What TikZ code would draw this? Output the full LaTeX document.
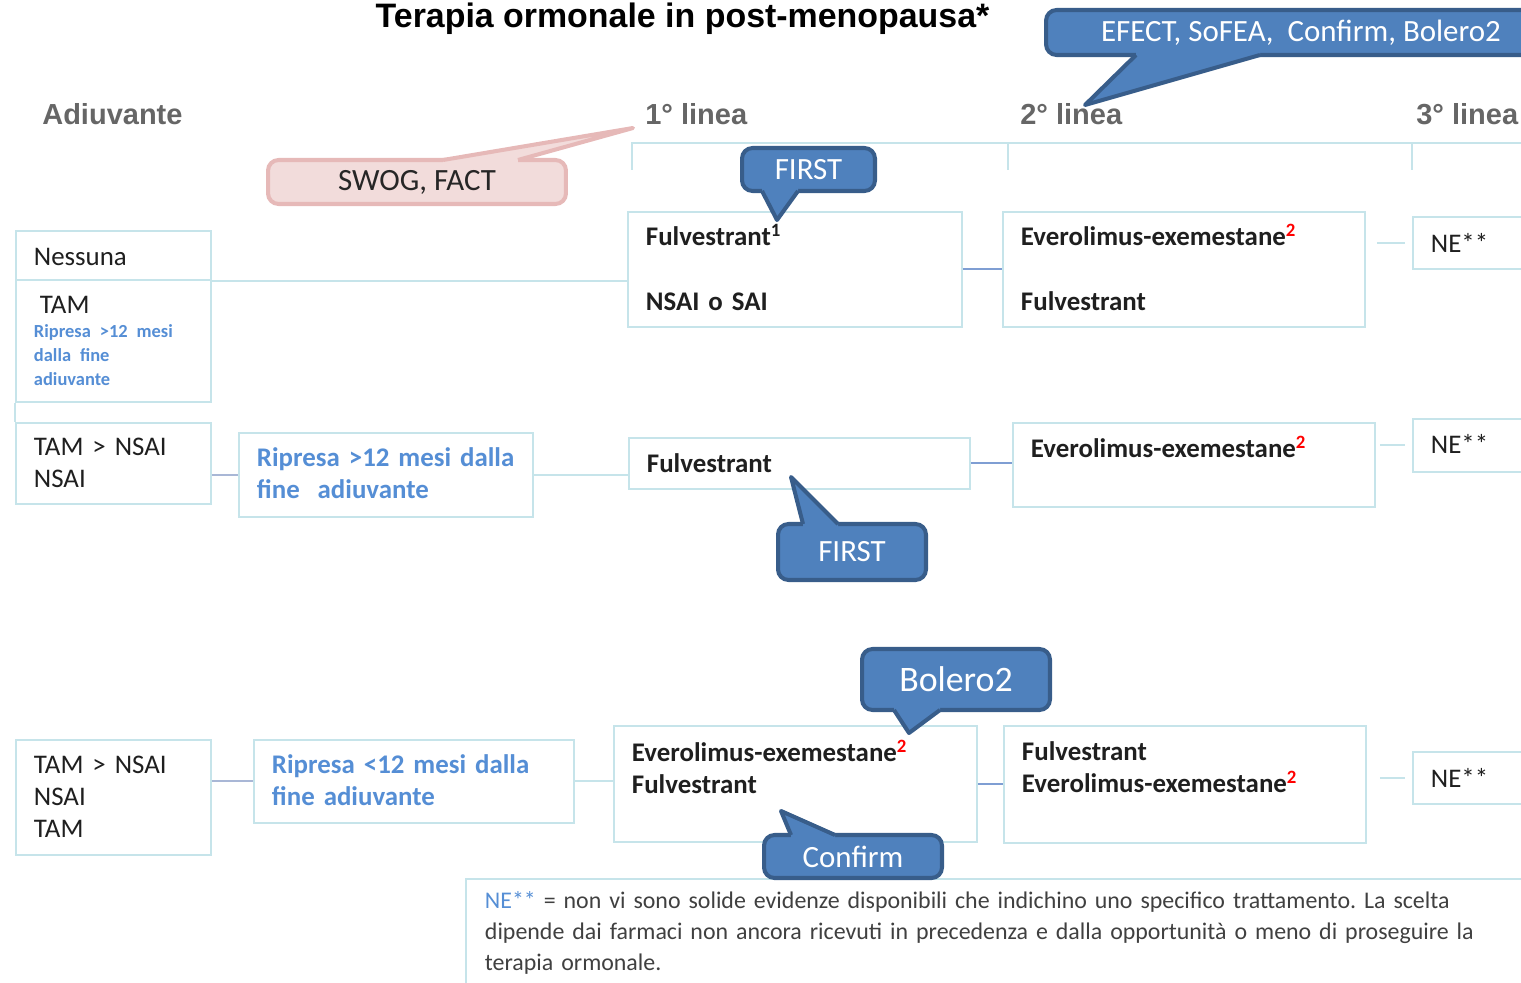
\documentclass[tikz,border=0pt]{standalone}
\usepackage{fontspec}
\setmainfont{Carlito}
\newfontfamily\headfont{Liberation Sans}
\usepackage{xcolor}
\usepackage{tikz}
\definecolor{BoxLine}{HTML}{C6E4EA}
\definecolor{LinkBlue}{HTML}{7F9ED3}
\definecolor{LinkGray}{HTML}{A9B7D6}
\definecolor{TextBlue}{HTML}{558ED5}
\definecolor{HeadGray}{HTML}{666666}
\definecolor{NoteGray}{HTML}{404040}
\definecolor{CallFill}{HTML}{4F81BD}
\definecolor{CallLine}{HTML}{385D8A}
\definecolor{PinkFill}{HTML}{F2DCDB}
\definecolor{PinkLine}{HTML}{E6B9B8}
\frenchspacing

\begin{document}
\begin{tikzpicture}[x=0.02cm,y=-0.02cm]
\tikzstyle{box}=[rectangle,draw=BoxLine,line width=1.1pt,fill=white,anchor=north west,align=left,inner xsep=0.36cm,inner ysep=0pt,text=black!88,font=\fontsize{15.3}{18.1}\selectfont]
\tikzstyle{bbox}=[box,font=\fontsize{15.3}{18.1}\selectfont\bfseries]
\tikzstyle{link}=[draw=BoxLine,line width=1.1pt]
\tikzstyle{blink}=[draw=LinkBlue,line width=1.1pt]
\tikzstyle{glink}=[draw=LinkGray,line width=1.1pt]
\tikzstyle{head}=[anchor=base west,text=HeadGray,inner sep=0pt,font=\headfont\fontsize{16.5}{19}\selectfont\bfseries]
\tikzstyle{bubble}=[rectangle,rounded corners=6pt,draw=CallLine,line width=2.3pt,fill=CallFill,text=white,inner sep=0pt,font=\fontsize{17.6}{21}\selectfont]
\tikzstyle{pinkbubble}=[bubble,draw=PinkLine,fill=PinkFill,text=black!85]
\tikzstyle{tip}=[line width=2.3pt,line join=round]
\useasboundingbox (0,0) rectangle (1521,983);
\clip (0,0) rectangle (1521,983);

\node[anchor=base,inner sep=0pt,font=\headfont\fontsize{19.3}{23}\selectfont\bfseries] (title) at (682.5,28) {Terapia ormonale in post-menopausa*};
\node[head] (hadj) at (42,125) {Adiuvante};
\node[head] (hl1) at (645,125) {1° linea};
\node[head] (hl2) at (1020,125) {2° linea};
\node[head] (hl3) at (1416,125) {3° linea};
\draw[link] (632,170) -- (632,143) -- (1521,143);
\draw[link] (1008,143) -- (1008,170);
\draw[link] (1412,143) -- (1412,170);

\node[box,text width=3.18cm,text height=0.70cm,text depth=0.28cm] (nes) at (15,230) {Nessuna};
\node[box,text width=3.18cm,text height=0.68cm,text depth=1.76cm] (tam) at (15,279) {\hspace*{0.12cm}TAM\par{\fontsize{10.5}{13.6}\selectfont\leavevmode\color{TextBlue}\bfseries Ripresa >12 mesi\\ dalla fine\\ adiuvante\par}};
\node[bbox,text width=5.96cm,text height=0.68cm,text depth=1.62cm] (f1) at (627,211) {Fulvestrant\textsuperscript{1}\\[0.66cm]NSAI o SAI};
\node[bbox,text width=6.52cm,text height=0.68cm,text depth=1.62cm] (s1) at (1002,211) {Everolimus-exemestane\textsuperscript{\color{red}2}\\[0.66cm]Fulvestrant};
\node[box,text width=2.08cm,text height=0.72cm,text depth=0.32cm] (ne1) at (1412,216) {NE**};

\node[box,text width=3.18cm,text height=0.66cm,text depth=0.96cm] (tn2) at (15,422) {TAM > NSAI\\ NSAI};
\node[bbox,text width=5.16cm,text height=0.68cm,text depth=1.00cm,text=TextBlue] (r2) at (238,432) {Ripresa >12 mesi dalla\\ fine~ adiuvante};
\node[bbox,text width=6.10cm,text height=0.70cm,text depth=0.32cm] (fu2) at (628,437) {Fulvestrant};
\node[bbox,text width=6.52cm,text height=0.70cm,text depth=0.98cm] (ev2) at (1012,422) {Everolimus-exemestane\textsuperscript{\color{red}2}};
\node[box,text width=2.08cm,text height=0.70cm,text depth=0.36cm] (ne2) at (1412,418) {NE**};

\node[box,text width=3.18cm,text height=0.68cm,text depth=1.62cm] (tn3) at (15,739) {TAM > NSAI\\ NSAI\\ TAM};
\node[bbox,text width=5.68cm,text height=0.68cm,text depth=0.98cm,text=TextBlue] (r3) at (253,739) {Ripresa <12 mesi dalla\\ fine adiuvante};
\node[bbox,text width=6.54cm,text height=0.72cm,text depth=1.60cm] (e3) at (613,725) {Everolimus-exemestane\textsuperscript{\color{red}2}\\ Fulvestrant};
\node[bbox,text width=6.52cm,text height=0.70cm,text depth=1.64cm] (f3) at (1003,725) {Fulvestrant\\ Everolimus-exemestane\textsuperscript{\color{red}2}};
\node[box,text width=2.08cm,text height=0.72cm,text depth=0.32cm] (ne3) at (1412,751) {NE**};

\draw[link] (nes.south east) -- (nes.south east -| f1.west);
\draw[blink] (f1.east) -- (s1.west);
\draw[link] ([xshift=0.22cm]s1.east |- ne1.west) -- ([xshift=-0.14cm]ne1.west);
\draw[link] (tam.south west) -- (tn2.north west);
\draw[glink] (tn2.east |- r2.west) -- (r2.west);
\draw[link] (r2.east) -- (r2.east -| fu2.west);
\draw[blink] (fu2.east) -- (fu2.east -| ev2.west);
\draw[link] ([xshift=0.08cm]ev2.east |- ne2.west) -- ([xshift=-0.14cm]ne2.west);
\draw[glink] (tn3.east |- r3.west) -- (r3.west);
\draw[link] (r3.east) -- (r3.east -| e3.west);
\draw[blink] (e3.east) -- (e3.east -| f3.west);
\draw[link] ([xshift=0.26cm]f3.east |- ne3.west) -- ([xshift=-0.14cm]ne3.west);

\node[box,text width=21cm,text height=0.60cm,text depth=4cm,inner xsep=0.38cm,text=NoteGray,font=\fontsize{13.6}{17.6}\selectfont] (note) at (465,878) {{\color{TextBlue}NE**} = non vi sono solide evidenze disponibili che indichino uno specifico trattamento. La scelta\\ dipende dai farmaci non ancora ricevuti in precedenza e dalla opportunità o meno di proseguire la\\ terapia ormonale.};

\node[bubble,minimum width=10.2cm,minimum height=0.9cm] (cefect) at (1301,32.5) {EFECT, SoFEA,~ Confirm, Bolero2};
\fill[CallFill] (1136,51) -- (1136,55) -- (1085,105) -- (1260,55) -- (1260,51) -- cycle;
\draw[tip,CallLine] (1136,55) -- (1085,105) -- (1260,55);

\node[bubble,minimum width=2.66cm,minimum height=0.86cm] (cfirsta) at (808.5,169.5) {FIRST};
\fill[CallFill] (762,187) -- (762,191) -- (777,220) -- (798,191) -- (798,187) -- cycle;
\draw[tip,CallLine] (762,191) -- (777,220) -- (798,191);

\node[pinkbubble,minimum width=5.96cm,minimum height=0.88cm] (cswog) at (417,182) {SWOG, FACT};
\fill[PinkFill] (443,164) -- (443,160) -- (633,128) -- (518,160) -- (518,164) -- cycle;
\draw[tip,PinkLine] (443,160) -- (633,128) -- (518,160);

\node[bubble,minimum width=2.96cm,minimum height=1.12cm] (cfirstb) at (852,552) {FIRST};
\fill[CallFill] (803,528) -- (803,524) -- (791,477) -- (838,524) -- (838,528) -- cycle;
\draw[tip,CallLine] (803,524) -- (791,477) -- (838,524);

\node[bubble,minimum width=3.76cm,minimum height=1.22cm,font=\fontsize{20.4}{24}\selectfont] (cbolero) at (956,679.5) {Bolero2};
\fill[CallFill] (894,706) -- (894,710) -- (909,733) -- (940,710) -- (940,706) -- cycle;
\draw[tip,CallLine] (894,710) -- (909,733) -- (940,710);

\node[bubble,minimum width=3.56cm,minimum height=0.86cm] (cconfirm) at (853,856.5) {Confirm};
\fill[CallFill] (791,839) -- (791,835) -- (781,811) -- (835,835) -- (835,839) -- cycle;
\draw[tip,CallLine] (791,835) -- (781,811) -- (835,835);
\end{tikzpicture}
\end{document}
